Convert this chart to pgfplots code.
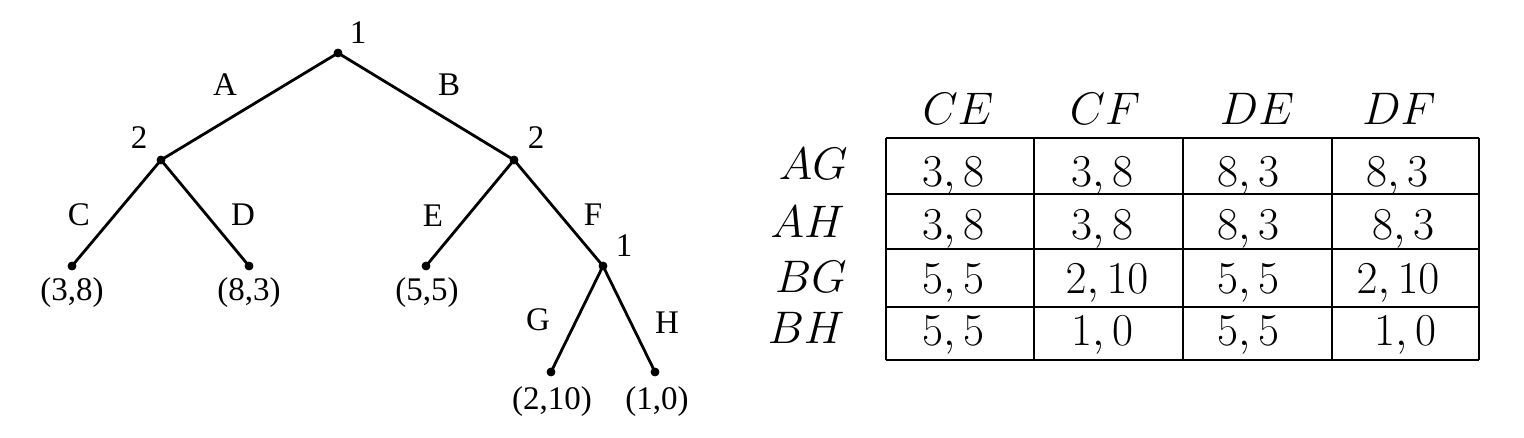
\documentclass[border=0pt]{standalone}
\usepackage{fontspec}
\usepackage{pgfplots}
\pgfplotsset{compat=1.18}
\newfontfamily\tms{Liberation Serif}
\begin{document}
\begin{tikzpicture}
\begin{axis}[scale only axis, width=762pt, height=219pt,
  xmin=0, xmax=1524, ymin=0, ymax=438, y dir=reverse,
  hide axis, clip=false]
% tree edges
\addplot[black, line width=1.4pt, mark=none] coordinates {(338,53) (161,160) (72,266)};
\addplot[black, line width=1.4pt, mark=none] coordinates {(161,160) (249,266)};
\addplot[black, line width=1.4pt, mark=none] coordinates {(338,53) (514,160) (426,266)};
\addplot[black, line width=1.4pt, mark=none] coordinates {(514,160) (603,266) (551,372)};
\addplot[black, line width=1.4pt, mark=none] coordinates {(603,266) (655,372)};
% tree nodes
\addplot[only marks, mark=*, mark size=2pt, black] coordinates {
 (338,53) (161,160) (514,160) (72,266) (249,266) (426,266) (603,266) (551,372) (655,372)};
% table grid
\addplot[black, line width=0.8pt, mark=none] coordinates {(886,138) (1479,138)};
\addplot[black, line width=0.8pt, mark=none] coordinates {(886,194) (1479,194)};
\addplot[black, line width=0.8pt, mark=none] coordinates {(886,249) (1479,249)};
\addplot[black, line width=0.8pt, mark=none] coordinates {(886,307) (1479,307)};
\addplot[black, line width=0.8pt, mark=none] coordinates {(886,360) (1479,360)};
\addplot[black, line width=0.8pt, mark=none] coordinates {(886,138) (886,360)};
\addplot[black, line width=0.8pt, mark=none] coordinates {(1034,138) (1034,360)};
\addplot[black, line width=0.8pt, mark=none] coordinates {(1183,138) (1183,360)};
\addplot[black, line width=0.8pt, mark=none] coordinates {(1332,138) (1332,360)};
\addplot[black, line width=0.8pt, mark=none] coordinates {(1479,138) (1479,360)};
% tree labels
\begin{scope}[every node/.style={font=\tms\fontsize{16.5}{20}\selectfont, inner sep=0pt}]
\node at (axis cs:358,33) {1};
\node at (axis cs:139,138) {2};
\node at (axis cs:536,138) {2};
\node at (axis cs:624,246) {1};
\node at (axis cs:225,85) {A};
\node at (axis cs:449,85) {B};
\node at (axis cs:79,215) {C};
\node at (axis cs:243,215) {D};
\node at (axis cs:433,216) {E};
\node at (axis cs:593,215) {F};
\node at (axis cs:538,320) {G};
\node at (axis cs:667,323) {H};
\node at (axis cs:72,293) {(3,8)};
\node at (axis cs:249,293) {(8,3)};
\node at (axis cs:427,293) {(5,5)};
\node at (axis cs:552,402) {(2,10)};
\node at (axis cs:657,402) {(1,0)};
\end{scope}
% table text
\begin{scope}[every node/.style={font=\huge, scale=1.1, inner sep=0pt, anchor=base}]
\node at (axis cs:958,125) {$CE$};
\node at (axis cs:1105,125) {$CF$};
\node at (axis cs:1257,125) {$DE$};
\node at (axis cs:1399,125) {$DF$};
\node[anchor=base east] at (axis cs:848,180) {$AG$};
\node[anchor=base east] at (axis cs:845,237) {$AH$};
\node[anchor=base east] at (axis cs:847,292) {$BG$};
\node[anchor=base east] at (axis cs:845,343) {$BH$};
\node at (axis cs:953,187) {$3,8$};
\node at (axis cs:1102,187) {$3,8$};
\node at (axis cs:1248,187) {$8,3$};
\node at (axis cs:1397,187) {$8,3$};
\node at (axis cs:953,240) {$3,8$};
\node at (axis cs:1102,240) {$3,8$};
\node at (axis cs:1248,240) {$8,3$};
\node at (axis cs:1403,240) {$8,3$};
\node at (axis cs:953,293) {$5,5$};
\node at (axis cs:1107,293) {$2,10$};
\node at (axis cs:1248,293) {$5,5$};
\node at (axis cs:1398,293) {$2,10$};
\node at (axis cs:953,345) {$5,5$};
\node at (axis cs:1102,345) {$1,0$};
\node at (axis cs:1248,345) {$5,5$};
\node at (axis cs:1405,345) {$1,0$};
\end{scope}
\path (rel axis cs:0,0) rectangle (rel axis cs:1,1);
\end{axis}
\end{tikzpicture}
\end{document}
